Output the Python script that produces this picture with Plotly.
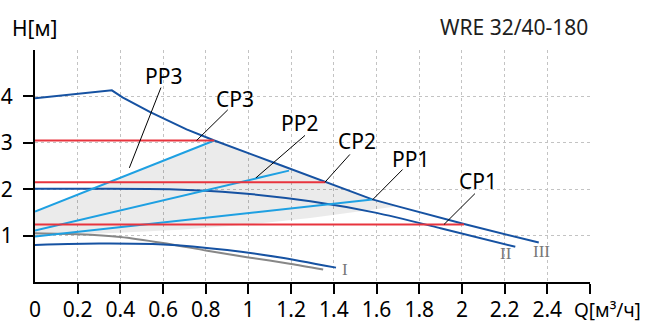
import plotly.graph_objects as go

# ---- axis ticks ----
q_label_vals = [0, 0.2, 0.4, 0.6, 0.8, 1.0, 1.2, 1.4, 1.6, 1.8, 2.0, 2.2, 2.4]
q_label_text = ["0", "0.2", "0.4", "0.6", "0.8", "1", "1.2", "1.4", "1.6", "1.8", "2", "2.2", "2.4"]
q_tick_vals = [0.2, 0.4, 0.6, 0.8, 1.0, 1.2, 1.4, 1.6, 1.8, 2.0, 2.2, 2.4, 2.6]
h_tick_vals = [1, 2, 3, 4]
h_tick_text = ["1", "2", "3", "4"]

# ---- speed curves ----
q_III = [0, 0.36, 0.41, 0.54, 0.71, 0.84, 1.12, 1.36, 1.58, 1.70, 1.90, 2.01, 2.36]
h_III = [3.96, 4.13, 3.98, 3.66, 3.29, 3.05, 2.57, 2.15, 1.78, 1.63, 1.38, 1.25, 0.85]

q_II = [0, 0.3, 0.63, 0.95, 1.29, 1.6, 1.9, 2.25]
h_II = [2.01, 2.01, 2.0, 1.92, 1.74, 1.49, 1.16, 0.76]

q_I = [0, 0.3, 0.6, 0.9, 1.15, 1.41]
h_I = [0.80, 0.83, 0.81, 0.69, 0.53, 0.31]

q_gray = [0, 0.2, 0.4, 0.6, 0.8, 1.0, 1.2, 1.35]
h_gray = [1.05, 1.03, 0.97, 0.84, 0.68, 0.53, 0.39, 0.27]

# ---- proportional pressure lines ----
q_PP3 = [0, 0.84]
h_PP3 = [1.52, 3.05]
q_PP2 = [0, 1.19]
h_PP2 = [1.11, 2.40]
q_PP1 = [0, 1.58]
h_PP1 = [0.98, 1.78]

# ---- constant pressure lines ----
q_CP3 = [0, 0.84]
h_CP3 = [3.05, 3.05]
q_CP2 = [0, 1.36]
h_CP2 = [2.15, 2.15]
q_CP1 = [0, 2.01]
h_CP1 = [1.24, 1.24]

# ---- lower boundary of the shaded control range ----
q_band_low = [0, 0.4, 0.68, 1.0, 1.29, 1.70]
h_band_low = [1.0, 1.06, 1.125, 1.24, 1.38, 1.63]

DARK = "rgb(22,82,162)"
LIGHT = "rgb(30,160,226)"
RED = "rgb(232,52,62)"
GRAY = "rgb(135,135,135)"
FONT = "Noto Sans"

fig = go.Figure()

# shaded area: PP3 line, then the max curve, then back along the lower boundary
poly_q = [q_PP3[0]] + [q for q in q_III if q_PP3[1] <= q <= q_band_low[-1]] + q_band_low[::-1]
poly_h = [h_PP3[0]] + [h for q, h in zip(q_III, h_III) if q_PP3[1] <= q <= q_band_low[-1]] + h_band_low[::-1]
fig.add_trace(go.Scatter(x=poly_q, y=poly_h, fill="toself", fillcolor="rgba(0,0,0,0.08)",
                         line=dict(width=0), mode="lines", hoverinfo="skip"))

def add_line(q, h, color, shape="spline"):
    fig.add_trace(go.Scatter(x=q, y=h, mode="lines",
                             line=dict(color=color, width=2, shape=shape, smoothing=0.6)))

add_line(q_gray, h_gray, GRAY)
add_line(q_I, h_I, DARK)
add_line(q_II, h_II, DARK)
add_line(q_III, h_III, DARK, shape="linear")
add_line(q_PP1, h_PP1, LIGHT, "linear")
add_line(q_PP2, h_PP2, LIGHT, "linear")
add_line(q_PP3, h_PP3, LIGHT, "linear")
add_line(q_CP1, h_CP1, RED, "linear")
add_line(q_CP2, h_CP2, RED, "linear")
add_line(q_CP3, h_CP3, RED, "linear")

# labels with leader lines: (text, text pos, leader start, leader end)
labels = [
    ("PP3", (0.601, 4.44), (0.590, 4.19), (0.442, 2.46)),
    ("CP3", (0.937, 3.94), (0.903, 3.71), (0.757, 3.05)),
    ("PP2", (1.241, 3.435), (1.265, 3.16), (1.035, 2.245)),
    ("CP2", (1.507, 3.037), (1.475, 2.749), (1.358, 2.149)),
    ("PP1", (1.761, 2.641), (1.722, 2.424), (1.582, 1.775)),
    ("CP1", (2.076, 2.171), (2.061, 1.905), (1.916, 1.24)),
]
for text, (tx, ty), (x0, y0), (x1, y1) in labels:
    fig.add_annotation(x=tx, y=ty, text=text, showarrow=False,
                       font=dict(family=FONT, size=21, color="black"))
    fig.add_shape(type="line", x0=x0, y0=y0, x1=x1, y1=y1,
                  line=dict(color="black", width=1))

for text, tx, ty in [("I", 1.452, 0.275), ("II", 2.206, 0.62), ("III", 2.373, 0.656)]:
    fig.add_annotation(x=tx, y=ty, text=text, showarrow=False,
                       font=dict(family="Liberation Serif", size=17, color="rgb(120,120,120)"))

# axis titles and chart title
fig.add_annotation(xref="paper", yref="paper", x=0, y=1, xanchor="center", yanchor="bottom",
                   yshift=6, text="H[м]", showarrow=False,
                   font=dict(family=FONT, size=21, color="black"))
fig.add_annotation(xref="paper", yref="paper", x=1, y=1, xanchor="right", yanchor="bottom",
                   yshift=7, text="WRE 32/40-180", showarrow=False,
                   font=dict(family=FONT, size=21, color="rgb(30,30,30)"))
fig.add_annotation(xref="paper", yref="paper", x=1, y=0, xanchor="left", yanchor="middle",
                   xshift=-17, yshift=-28, height=22, borderpad=0, text="Q[м³/ч]",
                   showarrow=False, font=dict(family=FONT, size=19, color="black"))

fig.update_layout(
    width=652, height=322,
    margin=dict(l=35, r=62, t=50, b=40, autoexpand=False),
    paper_bgcolor="white", plot_bgcolor="white",
    showlegend=False,
    font=dict(family=FONT, size=20, color="black"),
)
fig.update_xaxes(
    range=[0, 2.6], showline=True, linecolor="black", linewidth=2, automargin=False,
    tickmode="array", tickvals=q_label_vals, ticktext=q_label_text,
    ticks="", showgrid=False, zeroline=False, ticklabelstandoff=8,
    tickfont=dict(family=FONT, size=21, color="black"),
    minor=dict(tickmode="array", tickvals=q_tick_vals, ticks="outside", ticklen=10,
               tickwidth=2, tickcolor="black", showgrid=True,
               gridcolor="rgb(195,195,195)", griddash="dot", gridwidth=1),
)
fig.update_yaxes(
    range=[0, 5], showline=True, linecolor="black", linewidth=2, automargin=False,
    tickmode="array", tickvals=h_tick_vals, ticktext=h_tick_text,
    ticks="outside", ticklen=10, tickwidth=2, tickcolor="black",
    showgrid=True, gridcolor="rgb(195,195,195)", griddash="dot", gridwidth=1,
    zeroline=False, ticklabelstandoff=6,
    tickfont=dict(family=FONT, size=21, color="black"),
    minor=dict(tickmode="array", tickvals=[5], ticks="", showgrid=True,
               gridcolor="rgb(195,195,195)", griddash="dot", gridwidth=1),
)

fig.write_html("out.html", post_script="document.body.style.margin='0px';",
               config={"displayModeBar": False})
